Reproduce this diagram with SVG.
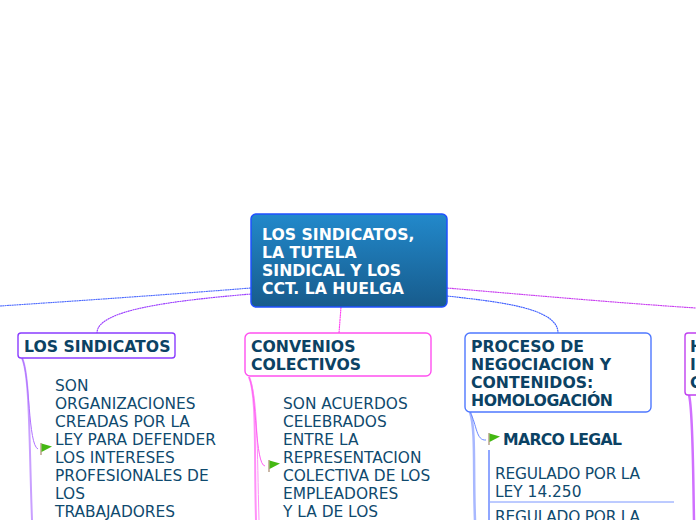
<svg xmlns="http://www.w3.org/2000/svg" width="696" height="520" viewBox="0 0 696 520">
<style>
text{font-family:"DejaVu Sans",Verdana,sans-serif;fill:#0f4a6e}
.b{font-weight:700;font-size:15.7px;fill:#0b4264}
.t{font-size:15.4px}
.c{font-weight:700;font-size:15.7px;fill:#fff}
.n{fill:#fff;stroke-width:1.4}
path{fill:none}
.d{stroke-width:1.100;stroke-dasharray:2 0.400}
</style>
<defs>
<linearGradient id="g" x1="0" y1="0" x2="0" y2="1"><stop offset="0" stop-color="#2289cb"/><stop offset="1" stop-color="#175b8c"/></linearGradient>
<g id="flag"><rect x="0" y="0" width="2" height="12" fill="#cbb8a8"/><path d="M1.500 0.500L12 3.500 1.500 9Z" style="fill:#44b812"/></g>
</defs>
<g id="connectors">
<path class="d" d="M251 288C150 296 60 302 0 306" stroke="#4f6cff"/>
<path class="d" d="M251 294C170 301 97 310 97 333" stroke="#9a3cff"/>
<path class="d" d="M341 307L339 333" stroke="#ff3cf0"/>
<path class="d" d="M447 296C500 302 558 308 558 333" stroke="#3c5cff"/>
<path class="d" d="M447 288C540 296 620 303 696 308" stroke="#c83cf0"/>
<path d="M22 358C30 375 29 440 32 520" stroke="#c9a0ff" stroke-width="2"/>
<path d="M22 358C30 375 28 445 38 449" stroke="#b070ff" stroke-width="1"/>
<path d="M249 377C257 395 254 450 256 520" stroke="#ff90f8" stroke-width="2"/>
<path d="M249 377C258 395 257 450 259 520" stroke="#ff90f8" stroke-width="1"/>
<path d="M249 377C257 395 255 465 265 466" stroke="#ff60f4" stroke-width="1"/>
<path d="M470 412C476 430 473 470 475 520" stroke="#a8b8ff" stroke-width="2.500"/>
<path d="M470 412C477 425 476 441 486 440" stroke="#6a88ff" stroke-width="1"/>
<path d="M489 450V520" stroke="#6a88ff" stroke-width="1.500"/>
<path d="M490 502H674" stroke="#7a96ff" stroke-width="1"/>
<path d="M689 395C693 410 693 470 694 520" stroke="#d070ff" stroke-width="2.500"/>
</g>
<g id="root"><rect x="251" y="214" width="196" height="93" rx="5" fill="url(#g)" stroke="#1f50ff" stroke-width="1.500"/>
<text class="c" x="262" y="240">LOS SINDICATOS,</text><text class="c" x="262" y="258">LA TUTELA</text><text class="c" x="262" y="276">SINDICAL Y LOS</text><text class="c" x="262" y="294">CCT. LA HUELGA</text></g>
<g id="n1"><rect class="n" x="18" y="333" width="157" height="25" rx="3" stroke="#8a3cff"/><text class="b" x="24" y="352">LOS SINDICATOS</text></g>
<g id="n1a"><use href="#flag" x="40" y="443"/>
<text class="t" x="55" y="391">SON</text><text class="t" x="55" y="409">ORGANIZACIONES</text><text class="t" x="55" y="427">CREADAS POR LA</text><text class="t" x="55" y="445">LEY PARA DEFENDER</text><text class="t" x="55" y="463">LOS INTERESES</text><text class="t" x="55" y="481">PROFESIONALES DE</text><text class="t" x="55" y="499">LOS</text><text class="t" x="55" y="517">TRABAJADORES</text></g>
<g id="n2"><rect class="n" x="245" y="333" width="186" height="43" rx="5" stroke="#ff50f0"/><text class="b" x="251" y="352">CONVENIOS</text><text class="b" x="251" y="370">COLECTIVOS</text></g>
<g id="n2a"><use href="#flag" x="268" y="460"/>
<text class="t" x="283" y="409">SON ACUERDOS</text><text class="t" x="283" y="427">CELEBRADOS</text><text class="t" x="283" y="445">ENTRE LA</text><text class="t" x="283" y="463">REPRESENTACION</text><text class="t" x="283" y="481">COLECTIVA DE LOS</text><text class="t" x="283" y="499">EMPLEADORES</text><text class="t" x="283" y="517">Y LA DE LOS</text></g>
<g id="n3"><rect class="n" x="465" y="333" width="186" height="79" rx="5" stroke="#4f78ff"/><text class="b" x="471" y="352">PROCESO DE</text><text class="b" x="471" y="370">NEGOCIACION Y</text><text class="b" x="471" y="388">CONTENIDOS:</text><text class="b" x="471" y="406" textLength="142">HOMOLOGACIÓN</text></g>
<g id="n3a"><use href="#flag" x="488" y="433"/><text class="b" x="503" y="445" textLength="119">MARCO LEGAL</text></g>
<g id="n3b"><text class="t" x="495" y="479" textLength="145">REGULADO POR LA</text><text class="t" x="495" y="497">LEY 14.250</text></g>
<g id="n3c"><text class="t" x="495" y="522" textLength="145">REGULADO POR LA</text></g>
<g id="n4"><rect class="n" x="685" y="333" width="30" height="62" rx="3" stroke="#c040f0"/><text class="b" x="690" y="352">H</text><text class="b" x="690" y="370">I</text><text class="b" x="690" y="388">C</text></g>
</svg>
